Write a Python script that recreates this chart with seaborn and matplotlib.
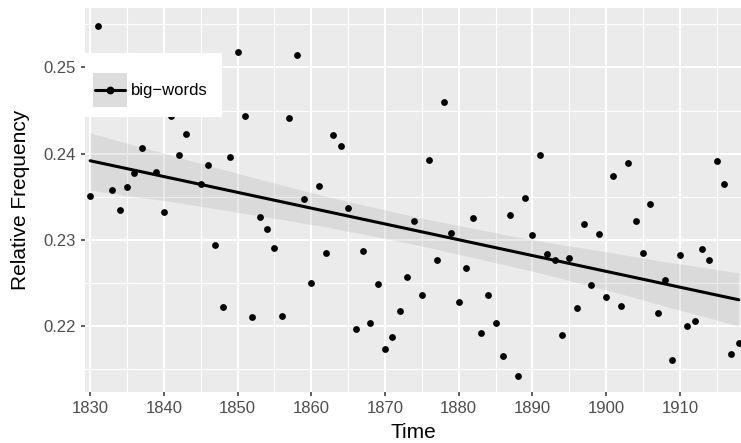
import numpy as np
import pandas as pd
import matplotlib
matplotlib.use("Agg")
import matplotlib.pyplot as plt
import seaborn as sns
from matplotlib.patches import Rectangle
from matplotlib.lines import Line2D

# values
# (1832, 1838 and 1844 sit under the legend box, estimated)
years = [1830, 1831, 1832, 1833, 1834, 1835, 1836, 1837, 1838, 1839, 1840, 1841,
         1842, 1843, 1844, 1845, 1846, 1847, 1848, 1849, 1850, 1851, 1852,
         1853, 1854, 1855, 1856, 1857, 1858, 1859, 1860, 1861, 1862,
         1863, 1864, 1865, 1866, 1867, 1868, 1869, 1870, 1871, 1872,
         1873, 1874, 1875, 1876, 1877, 1878, 1879, 1880, 1881, 1882,
         1883, 1884, 1885, 1886, 1887, 1888, 1889, 1890, 1891, 1892,
         1893, 1894, 1895, 1896, 1897, 1898, 1899, 1900, 1901, 1902,
         1903, 1904, 1905, 1906, 1907, 1908, 1909, 1910, 1911, 1912,
         1913, 1914, 1915, 1916, 1917, 1918]
freq = [0.2351, 0.2548, 0.2490, 0.2358, 0.2334, 0.2361, 0.2377, 0.2406, 0.2475, 0.2379, 0.2332, 0.2444,
        0.2398, 0.2423, 0.2480, 0.2365, 0.2387, 0.2294, 0.2222, 0.2396, 0.2518, 0.2444, 0.2210,
        0.2327, 0.2312, 0.2291, 0.2212, 0.2441, 0.2515, 0.2347, 0.2250, 0.2362, 0.2285,
        0.2422, 0.2409, 0.2337, 0.2196, 0.2287, 0.2203, 0.2249, 0.2173, 0.2187, 0.2217,
        0.2257, 0.2322, 0.2236, 0.2393, 0.2277, 0.2460, 0.2308, 0.2228, 0.2267, 0.2325,
        0.2192, 0.2236, 0.2204, 0.2165, 0.2329, 0.2142, 0.2349, 0.2305, 0.2398, 0.2283,
        0.2276, 0.2190, 0.2279, 0.2221, 0.2318, 0.2248, 0.2307, 0.2234, 0.2374, 0.2223,
        0.2389, 0.2322, 0.2285, 0.2342, 0.2215, 0.2253, 0.2161, 0.2282, 0.2200, 0.2206,
        0.2289, 0.2276, 0.2391, 0.2365, 0.2167, 0.2180]
series_name = "big\u2212words"
x_ticks = [1830, 1840, 1850, 1860, 1870, 1880, 1890, 1900, 1910]
y_ticks = [0.22, 0.23, 0.24, 0.25]

df = pd.DataFrame({"Time": years, "Relative Frequency": freq})

sns.set_style("darkgrid", {"axes.facecolor": "#EBEBEB", "grid.color": "white"})
plt.rcParams["font.family"] = ["Liberation Sans", "DejaVu Sans"]

fig = plt.figure(figsize=(7.41, 4.43), dpi=100)
ax = fig.add_axes([85 / 741, 1 - 392.3 / 443, 656 / 741, 384.3 / 443])

sns.regplot(data=df, x="Time", y="Relative Frequency", ax=ax, ci=95, n_boot=2000, seed=3,
            scatter_kws={"s": 24, "color": "black", "alpha": 1, "linewidths": 0, "zorder": 3},
            line_kws={"color": "black", "lw": 2.2, "zorder": 4})
# band colour like ggplot's grey60 fill
for c in ax.collections[1:]:
    c.set_facecolor("#999999")
    c.set_alpha(0.2)
    c.set_zorder(2)

ax.set_xlim(1829.3, 1918.3)
ax.set_ylim(0.2123, 0.2569)
ax.set_xticks(x_ticks)
ax.set_yticks(y_ticks)
ax.set_yticklabels([f"{v:.2f}" for v in y_ticks])
ax.set_xticks(np.arange(1835, 1920, 10), minor=True)
ax.set_yticks([0.215, 0.225, 0.235, 0.245, 0.255], minor=True)
ax.grid(which="major", color="white", lw=1.5)
ax.grid(which="minor", color="white", lw=0.8)
ax.set_axisbelow(True)
for s in ax.spines.values():
    s.set_visible(False)
ax.tick_params(which="major", length=3, width=1.1, color="#333333", labelsize=12,
               labelcolor="#4D4D4D", pad=3.5, bottom=True, left=True)
ax.tick_params(which="minor", length=0)
ax.set_xlabel("Time", fontsize=15, color="black", labelpad=4.5)
ax.set_ylabel("Relative Frequency", fontsize=15, color="black", labelpad=10)

# legend box, ggplot style
ax.add_patch(Rectangle((0, 0.717), 0.209, 0.167, transform=ax.transAxes,
                       facecolor="white", edgecolor="none", zorder=6))
ax.add_patch(Rectangle((0.0127, 0.7432), 0.0509, 0.0869, transform=ax.transAxes,
                       facecolor="#DDDDDD", edgecolor="none", zorder=7))
ax.add_line(Line2D([0.0160, 0.0605], [0.7866, 0.7866], transform=ax.transAxes,
                   color="black", lw=2.2, zorder=8))
ax.add_line(Line2D([0.0381], [0.7866], transform=ax.transAxes, marker="o",
                   markersize=4.6, color="black", zorder=9))
ax.text(0.0701, 0.7866, series_name, transform=ax.transAxes, fontsize=12,
        va="center", ha="left", color="black", zorder=9)

fig.savefig("out.png", dpi=100)
